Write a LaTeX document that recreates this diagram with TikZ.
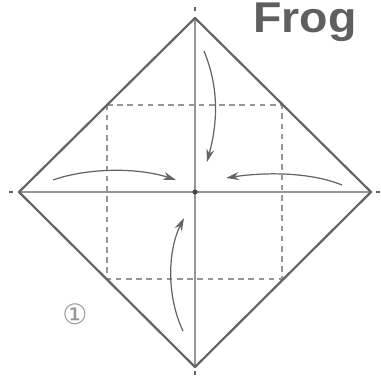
\documentclass[tikz,border=0pt]{standalone}
\usepackage{fontspec}
\setmainfont{Liberation Sans}
\newfontfamily\symfont{DejaVu Sans}
\usepackage{xcolor}
\usetikzlibrary{arrows.meta,calc}
\definecolor{paperline}{RGB}{100,100,100}
\definecolor{foldline}{RGB}{150,150,150}
\definecolor{titleink}{RGB}{95,95,95}
\tikzset{
  edgeln/.style={line width=1.25pt,paperline},
  crease/.style={line width=1.2pt,foldline},
  valley/.style={line width=1pt,foldline,dash pattern=on 3.2pt off 2.6pt},
  ar/.style={-{Stealth[length=2.6mm,width=1.6mm]},line width=0.7pt,paperline},
  tick/.style={line width=1.2pt,paperline},
}
\begin{document}
\begin{tikzpicture}[x=0.02cm,y=-0.02cm]
  \useasboundingbox (0,0) rectangle (381,375);
  \coordinate (T) at (195,18);
  \coordinate (L) at (19,192);
  \coordinate (R) at (371,192);
  \coordinate (B) at (195,367);
  \coordinate (C) at (195,192);
  % dashed square
  \coordinate (q1) at (107,105);
  \coordinate (q2) at (282,105);
  \coordinate (q3) at (282,279);
  \coordinate (q4) at (107,279);
  \draw[valley] (q1) -- (q2) -- (q3) -- (q4) -- cycle;
  % creases and outline
  \draw[crease] (T) -- (B);
  \draw[crease] (L) -- (R);
  \draw[edgeln,line join=round] (T) -- (R) -- (B) -- (L) -- cycle;
  % ticks at the corners
  \draw[tick] (T) ++(0,-7) -- ++(0,-4);
  \draw[tick] (B) ++(0,4) -- ++(0,4);
  \draw[tick] (L) ++(-10,0) -- ++(4,0);
  \draw[tick] (R) ++(5,0) -- ++(4,0);
  \fill[paperline!70!black] (C) circle (2.6);
  % arrows
  \coordinate (a1) at (204,51);
  \coordinate (a2) at (207,162);
  \coordinate (b1) at (53,180);
  \coordinate (b2) at (176,180);
  \coordinate (c1) at (342,185);
  \coordinate (c2) at (226,178);
  \coordinate (d1) at (183,331);
  \coordinate (d2) at (184,218);
  \draw[ar] (a1) .. controls (220,90) and (217,125) .. (a2);
  \draw[ar] (b1) .. controls (90,167) and (140,168) .. (b2);
  \draw[ar] (c1) .. controls (310,172) and (265,172) .. (c2);
  \draw[ar] (d1) .. controls (166,295) and (168,250) .. (d2);
  % labels
  \node[font=\bfseries\fontsize{24.5}{26}\selectfont,titleink,anchor=base,xscale=1.08,inner sep=0pt] (title) at (305,33) {Frog};
  \node[font=\symfont\fontsize{16}{18}\selectfont,foldline,inner sep=0pt] (stepnum) at (75,314) {①};
\end{tikzpicture}
\end{document}
